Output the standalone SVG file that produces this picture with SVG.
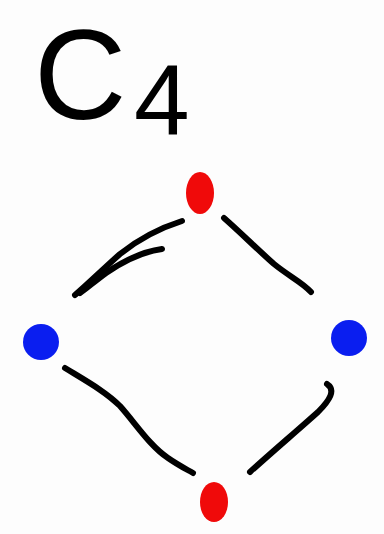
<svg xmlns="http://www.w3.org/2000/svg" width="384" height="534" viewBox="0 0 384 534">
<style>
.lbl{font-family:"Liberation Sans","DejaVu Sans",sans-serif;fill:#000;}
.edge{fill:none;stroke:#000;stroke-width:6;stroke-linecap:round;stroke-linejoin:round;}
.red{fill:#f00a0a;}
.blue{fill:#0a1ef0;}
</style>
<rect width="384" height="534" fill="#fdfdfd"/>
<g id="title">
<text class="lbl" x="34" y="119" font-size="128">C</text>
<text class="lbl" x="134" y="135" font-size="100">4</text>
</g>
<g id="connectors">
<path class="edge" d="M182,221 C160,228 140,238 120,254 C102,270 88,284 75,295"/>
<path class="edge" d="M162,249 C140,252 122,262 106,273 C95,281 86,289 80,293"/>
<path class="edge" d="M224,218 C240,232 258,250 274,264 C290,277 302,282 311,292"/>
<path class="edge" d="M65,368 C88,382 106,392 120,406 C136,424 150,446 168,458 C178,465 186,469 193,473"/>
<path class="edge" d="M250,472 C272,452 298,430 318,412 C330,400 336,390 327,384"/>
</g>
<g id="node-top"><ellipse class="red" cx="200" cy="193" rx="14" ry="21"/></g>
<g id="node-left"><circle class="blue" cx="41" cy="342" r="18"/></g>
<g id="node-right"><circle class="blue" cx="349" cy="338" r="18"/></g>
<g id="node-bottom"><ellipse class="red" cx="214" cy="502" rx="14" ry="20"/></g>
</svg>
